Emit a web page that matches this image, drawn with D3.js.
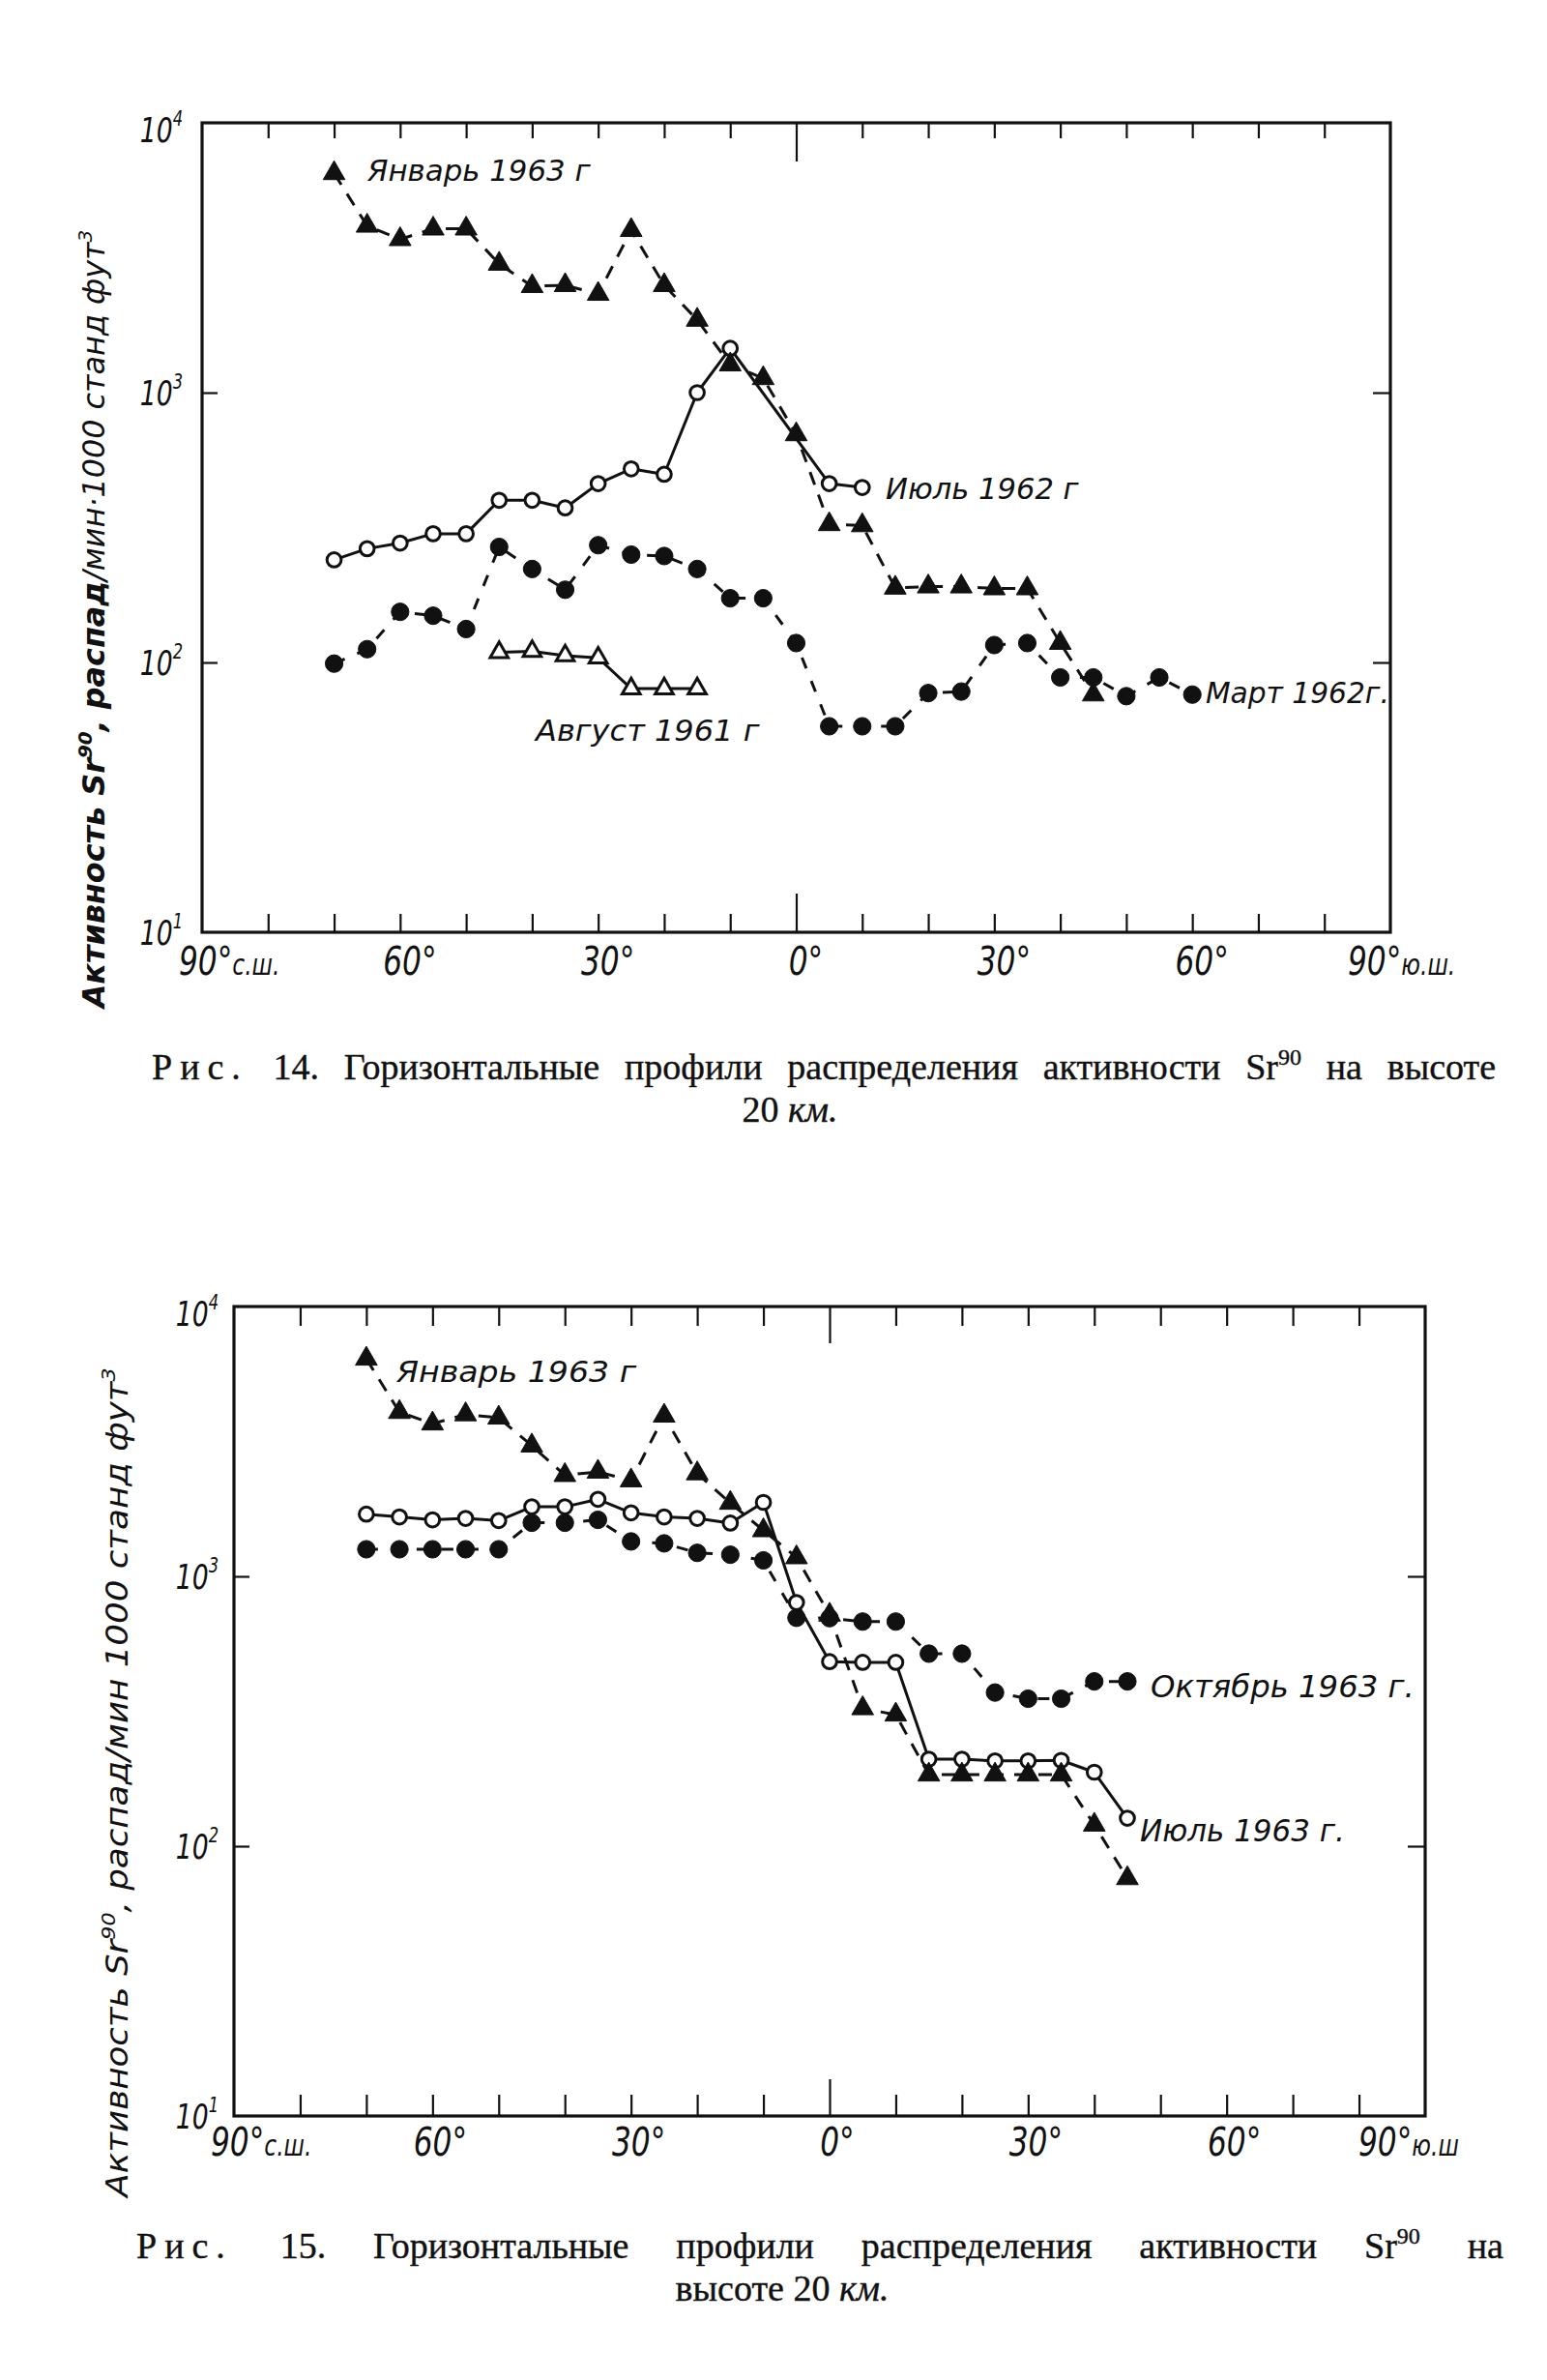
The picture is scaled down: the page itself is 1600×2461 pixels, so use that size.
<!DOCTYPE html>
<html><head><meta charset="utf-8">
<script src="https://cdn.jsdelivr.net/npm/d3@7"></script>
<style>
html,body{margin:0;padding:0;background:#fff;}
svg{display:block;background:#fff;}
</style></head>
<body>
<svg id="c" width="1600" height="2461"></svg>
<script>
// ---------------- DATA ----------------
const latTickValues = [80,70,60,50,40,30,20,10,0,-10,-20,-30,-40,-50,-60,-70,-80];
const yTickValues = [10, 100, 1000, 10000];
const yTickExponents = ["1", "2", "3", "4"];
const xLabelLats = [90, 60, 30, 0, -30, -60, -90];
const xLabels14 = ["90°с.ш.", "60°", "30°", "0°", "30°", "60°", "90°ю.ш."];
const xLabels15 = ["90°с.ш.", "60°", "30°", "0°", "30°", "60°", "90°ю.ш"];

// Рис. 14
const lat14Jan63 = [70,65,60,55,50,45,40,35,30,25,20,15,10,5,0,-5,-10,-15,-20,-25,-30,-35,-40,-45];
const val14Jan63 = [6500,4150,3700,4050,4050,3000,2480,2500,2320,4000,2500,1860,1270,1130,700,325,322,189,191,191,188,188,118,76];
const lat14Jul62 = [70,65,60,55,50,45,40,35,30,25,20,15,10,-5,-10];
const val14Jul62 = [240,264,277,300,300,399,399,374,460,522,498,1000,1460,460,445];
const lat14Mar62 = [70,65,60,55,50,45,40,35,30,25,20,15,10,5,0,-5,-10,-15,-20,-25,-30,-35,-40,-45,-50,-55,-60];
const val14Mar62 = [99,112,154,149,133,268,222,186,272,251,248,222,173,173,118,58,58,58,77,78,116,118,88,88,75,88,76];
const lat14Aug61 = [45,40,35,30,25,20,15];
const val14Aug61 = [109,110,106,104,80,80,80];

// Рис. 15
const lat15 = [70,65,60,55,50,45,40,35,30,25,20,15,10,5,0,-5,-10,-15,-20,-25,-30,-35,-40,-45];
const val15Jan63 = [6400,4060,3680,3980,3870,3050,2370,2440,2265,3935,2405,1870,1480,1175,720,324,307,184,184,184,184,184,120,76];
const val15Jul63 = [1700,1660,1620,1640,1610,1810,1810,1930,1720,1660,1640,1575,1880,800,483,480,480,210,210,207,207,208,188,127];
const val15Oct63 = [1260,1260,1260,1260,1260,1580,1580,1620,1347,1325,1222,1203,1146,702,700,680,680,517,517,371,352,352,408,408];

const labels14 = ["Январь 1963 г", "Июль 1962 г", "Август 1961 г", "Март 1962г."];
const labels15 = ["Январь 1963 г", "Октябрь 1963 г.", "Июль 1963 г."];

// ---------------- DRAW ----------------
const svg = d3.select("#c");
const INK = "#111";
const SANS = "'DejaVu Sans', 'Liberation Sans', sans-serif";
const SERIF = "'Liberation Serif', 'DejaVu Serif', serif";

function zip(lats, vals) { return lats.map((l, i) => ({lat: l, v: vals[i]})); }

function fitText(t, x, y, rot, width, scaleX) {
  const bb = t.node().getBBox();
  let k = scaleX || 1;
  if (width) k = width / bb.width;
  t.attr("transform", `translate(${x},${y}) rotate(${rot || 0}) scale(${k},1)`);
}

function drawChart(cfg) {
  const g = svg.append("g");
  const x = d3.scaleLinear().domain([90, -90]).range([cfg.left, cfg.right]);
  const y = d3.scaleLog().domain([10, 10000]).range([cfg.bottom, cfg.top]);

  const styleTicks = (sel) => {
    sel.select(".domain").remove();
    sel.selectAll(".tick line").attr("stroke", INK).attr("stroke-width", 2.2);
  };
  const topAx = g.append("g").attr("transform", `translate(0,${cfg.top})`)
    .call(d3.axisTop(x).tickValues(latTickValues).tickSize(-cfg.tickTop).tickFormat(""));
  styleTicks(topAx);
  topAx.selectAll(".tick line").filter(d => d === 0).attr("y2", cfg.zeroTick);

  const botAx = g.append("g").attr("transform", `translate(0,${cfg.bottom})`)
    .call(d3.axisBottom(x).tickValues(latTickValues).tickSize(-cfg.tickBot).tickFormat(""));
  styleTicks(botAx);
  botAx.selectAll(".tick line").filter(d => d === 0).attr("y2", -cfg.zeroTick);

  const leftAx = g.append("g").attr("transform", `translate(${cfg.left},0)`)
    .call(d3.axisLeft(y).tickValues([100, 1000]).tickSize(-16).tickFormat(""));
  styleTicks(leftAx);
  const rightAx = g.append("g").attr("transform", `translate(${cfg.right},0)`)
    .call(d3.axisRight(y).tickValues([100, 1000]).tickSize(-18).tickFormat(""));
  styleTicks(rightAx);

  g.append("rect").attr("x", cfg.left).attr("y", cfg.top)
    .attr("width", cfg.right - cfg.left).attr("height", cfg.bottom - cfg.top)
    .attr("fill", "none").attr("stroke", INK).attr("stroke-width", 3.2);

  yTickValues.forEach((v, i) => {
    const t = g.append("text").attr("font-family", SANS).attr("font-style", "italic")
      .attr("font-size", 36).attr("fill", INK).attr("text-anchor", "end");
    t.append("tspan").text("10");
    t.append("tspan").attr("font-size", 22).attr("dy", -17).text(yTickExponents[i]);
    const yy = y(v) + 13 + (v === 10000 ? 7 : 0);
    fitText(t, cfg.left - cfg.ylabGap, yy, 0, null, 0.74);
  });

  cfg.xLabels.forEach((lab, i) => {
    const lat = xLabelLats[i];
    const t = g.append("text").attr("font-family", SANS).attr("font-style", "italic")
      .attr("font-size", 40).attr("fill", INK);
    let px;
    if (lat === 90) { t.attr("text-anchor", "start"); px = x(lat) + cfg.xlabLeftDx; }
    else if (lat === -90) { t.attr("text-anchor", "start"); px = x(lat) + cfg.xlabRightDx; }
    else { t.attr("text-anchor", "middle"); px = x(lat) + cfg.xlabDx; }
    const m = lab.match(/^(\d+°)(.*)$/);
    t.append("tspan").text(m[1]);
    if (m[2]) t.append("tspan").attr("font-size", 30).text(m[2]);
    fitText(t, px, cfg.bottom + cfg.xlabBase, 0, null, 0.78);
  });

  const yt = g.append("text").attr("font-family", SANS).attr("font-style", "italic")
    .attr("font-size", 32).attr("fill", INK).attr("text-anchor", "middle");
  const fw = cfg.titleBold ? "bold" : "normal";
  yt.append("tspan").attr("font-weight", fw).text("Активность Sr");
  yt.append("tspan").attr("font-size", 20).attr("dy", -13).attr("font-weight", fw).text("90");
  yt.append("tspan").attr("dy", 13).attr("font-weight", fw).text(", распад");
  yt.append("tspan").text(cfg.titleRest);
  yt.append("tspan").attr("font-size", 20).attr("dy", -13).text("3");
  fitText(yt, cfg.titleX, cfg.titleY, -90, cfg.titleLen);

  const line = d3.line().x(d => x(d.lat)).y(d => y(d.v));
  cfg.series.forEach(s => {
    const data = zip(s.lats, s.vals);
    g.append("path").datum(data).attr("d", line).attr("fill", "none")
      .attr("stroke", INK).attr("stroke-width", 3)
      .attr("stroke-dasharray", s.dash || null)
      .attr("stroke-linejoin", "round");
  });
  cfg.series.forEach(s => {
    const data = zip(s.lats, s.vals);
    const sym = d3.symbol().type(s.marker === "tri" || s.marker === "otri" ? d3.symbolTriangle : d3.symbolCircle)
      .size(s.size);
    const open = s.marker === "ocirc" || s.marker === "otri";
    g.append("g").selectAll("path").data(data).join("path")
      .attr("transform", d => `translate(${x(d.lat)},${y(d.v)})`)
      .attr("d", sym)
      .attr("fill", open ? "#fff" : INK)
      .attr("stroke", INK).attr("stroke-width", open ? 3 : 1);
  });

  cfg.labels.forEach(l => {
    const t = g.append("text").attr("font-family", SANS).attr("font-style", "italic")
      .attr("font-size", l.fs || 30).attr("fill", INK).attr("text-anchor", "start").text(l.text);
    fitText(t, l.x, l.y, 0, l.w);
  });

  // caption (justified line + centred second line)
  const c1 = g.append("text").attr("font-family", SERIF).attr("font-size", 38).attr("fill", INK)
    .attr("stroke", INK).attr("stroke-width", 0.4).attr("text-anchor", "start");
  c1.append("tspan").attr("letter-spacing", 8).text("Рис.");
  c1.append("tspan").text(" " + cfg.capNum + " Горизонтальные профили распределения активности Sr");
  c1.append("tspan").attr("font-size", 24).attr("dy", -15).text("90");
  c1.append("tspan").attr("dy", 15).text(cfg.capEnd1);
  c1.attr("transform", `translate(${cfg.capLeft},${cfg.capY1})`);
  const w0 = c1.node().getBBox().width;
  const nSpaces = (c1.text().match(/ /g) || []).length;
  c1.attr("word-spacing", Math.max(0, (cfg.capRight - cfg.capLeft - w0) / nSpaces));

  const c2 = g.append("text").attr("font-family", SERIF).attr("font-size", 38).attr("fill", INK)
    .attr("stroke", INK).attr("stroke-width", 0.4).attr("text-anchor", "middle");
  c2.append("tspan").text(cfg.capLine2);
  c2.append("tspan").attr("font-style", "italic").text("км.");
  c2.attr("transform", `translate(${cfg.capMid},${cfg.capY2})`);
}

drawChart({
  left: 209, right: 1438, top: 127, bottom: 964,
  tickTop: 16, tickBot: 19, zeroTick: 40,
  ylabGap: 20,
  xLabels: xLabels14, xlabDx: 10, xlabLeftDx: -24, xlabRightDx: -44, xlabBase: 44,
  titleX: 108, titleY: 640, titleLen: 808, titleBold: true,
  titleRest: "/мин·1000 станд фут",
  series: [
    {lats: lat14Mar62, vals: val14Mar62, marker: "circ", size: 260, dash: "12,14"},
    {lats: lat14Aug61, vals: val14Aug61, marker: "otri", size: 150},
    {lats: lat14Jul62, vals: val14Jul62, marker: "ocirc", size: 170},
    {lats: lat14Jan63, vals: val14Jan63, marker: "tri", size: 220, dash: "14,11"}
  ],
  labels: [
    {text: labels14[0], x: 380, y: 187, w: 232},
    {text: labels14[1], x: 916, y: 516, w: 200},
    {text: labels14[2], x: 554, y: 766, w: 234},
    {text: labels14[3], x: 1247, y: 727, w: 190}
  ],
  capNum: "14.", capEnd1: " на высоте", capLine2: "20 ",
  capLeft: 157, capRight: 1547, capY1: 1116, capY2: 1160, capMid: 817
});

drawChart({
  left: 242, right: 1474, top: 1351, bottom: 2188,
  tickTop: 20, tickBot: 22, zeroTick: 38,
  ylabGap: 16,
  xLabels: xLabels15, xlabDx: 8, xlabLeftDx: -24, xlabRightDx: -69, xlabBase: 41,
  titleX: 132, titleY: 1843, titleLen: 860, titleBold: false,
  titleRest: "/мин 1000 станд фут",
  series: [
    {lats: lat15, vals: val15Oct63, marker: "circ", size: 260, dash: "12,14"},
    {lats: lat15, vals: val15Jul63, marker: "ocirc", size: 170},
    {lats: lat15, vals: val15Jan63, marker: "tri", size: 220, dash: "14,11"}
  ],
  labels: [
    {text: labels15[0], x: 410, y: 1429, w: 250, fs: 31},
    {text: labels15[1], x: 1190, y: 1755, w: 273, fs: 32},
    {text: labels15[2], x: 1179, y: 1904, w: 212, fs: 32}
  ],
  capNum: "15.", capEnd1: " на", capLine2: "высоте 20 ",
  capLeft: 141, capRight: 1555, capY1: 2335, capY2: 2379, capMid: 809
});
</script>
</body></html>
